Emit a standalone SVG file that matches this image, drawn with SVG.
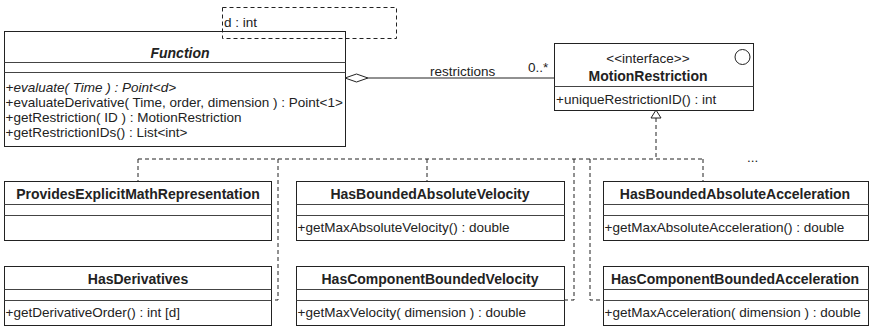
<svg xmlns="http://www.w3.org/2000/svg" width="871" height="327" viewBox="0 0 871 327">
<style>
.box{fill:#fff;stroke:#222;stroke-width:1}
.sep{stroke:#444;stroke-width:1}
.dash{fill:none;stroke:#222;stroke-width:1;stroke-dasharray:4,3}
.name{font-family:"Liberation Sans",Arial,sans-serif;font-size:14px;font-weight:bold;fill:#222;text-anchor:middle}
.m{font-family:"Liberation Sans",Arial,sans-serif;font-size:13.5px;fill:#222}
.ln{fill:none;stroke:#222;stroke-width:1}
</style>
<g id="connectors">
<path class="dash" d="M656,118 V159 M138,159 H703 M138,159 V181 M278,159 V300 H271 M427,159 V181 M574,159 V300 H564 M590,159 V300 H603 M703,159 V181"/>
<path d="M656,110 L651,118 L661,118 Z" fill="#fff" stroke="#222"/>
<path class="ln" d="M368,78 H554"/>
<path d="M345,78 L356.5,74 L368,78 L356.5,82 Z" fill="#fff" stroke="#222"/>
<text class="m" x="430" y="76">restrictions</text>
<text class="m" x="528" y="72">0..*</text>
<text class="m" x="747" y="162">...</text>
</g>
<g id="Function">
<rect class="box" x="4.5" y="31.5" width="341" height="115"/>
<line class="sep" x1="4.5" y1="62.5" x2="345.5" y2="62.5"/>
<line class="sep" x1="4.5" y1="72.5" x2="345.5" y2="72.5"/>
<text class="name" x="180" y="58" font-style="italic">Function</text>
<text class="m" x="5.5" y="92" font-style="italic">+evaluate( Time ) : Point&lt;d&gt;</text>
<text class="m" x="5.5" y="107">+evaluateDerivative( Time, order, dimension ) : Point&lt;1&gt;</text>
<text class="m" x="5.5" y="122">+getRestriction( ID ) : MotionRestriction</text>
<text class="m" x="5.5" y="137">+getRestrictionIDs() : List&lt;int&gt;</text>
</g>
<g id="template">
<rect x="222.5" y="7.5" width="174" height="31" fill="#fff" class="dash"/>
<text class="m" x="224" y="27">d : int</text>
</g>
<g id="MotionRestriction">
<rect class="box" x="554.5" y="43.5" width="199" height="67"/>
<line class="sep" x1="554.5" y1="86.5" x2="753.5" y2="86.5"/>
<circle cx="742.5" cy="57" r="7.5" fill="#fff" stroke="#222"/>
<text class="m" x="648" y="63" text-anchor="middle">&lt;&lt;interface&gt;&gt;</text>
<text class="name" x="648" y="81">MotionRestriction</text>
<text class="m" x="556" y="104">+uniqueRestrictionID() : int</text>
</g>
<g id="ProvidesExplicitMathRepresentation">
<rect class="box" x="4.5" y="181.5" width="267" height="59"/>
<line class="sep" x1="4.5" y1="204.5" x2="271.5" y2="204.5"/>
<line class="sep" x1="4.5" y1="215.5" x2="271.5" y2="215.5"/>
<text class="name" x="138" y="199">ProvidesExplicitMathRepresentation</text>
</g>
<g id="HasBoundedAbsoluteVelocity">
<rect class="box" x="296.5" y="181.5" width="268" height="59"/>
<line class="sep" x1="296.5" y1="204.5" x2="564.5" y2="204.5"/>
<line class="sep" x1="296.5" y1="215.5" x2="564.5" y2="215.5"/>
<text class="name" x="430" y="199">HasBoundedAbsoluteVelocity</text>
<text class="m" x="297.5" y="232">+getMaxAbsoluteVelocity() : double</text>
</g>
<g id="HasBoundedAbsoluteAcceleration">
<rect class="box" x="603.5" y="181.5" width="265" height="59"/>
<line class="sep" x1="603.5" y1="204.5" x2="868.5" y2="204.5"/>
<line class="sep" x1="603.5" y1="215.5" x2="868.5" y2="215.5"/>
<text class="name" x="735" y="199">HasBoundedAbsoluteAcceleration</text>
<text class="m" x="604.5" y="232">+getMaxAbsoluteAcceleration() : double</text>
</g>
<g id="HasDerivatives">
<rect class="box" x="4.5" y="266.5" width="267" height="59"/>
<line class="sep" x1="4.5" y1="289.5" x2="271.5" y2="289.5"/>
<line class="sep" x1="4.5" y1="300.5" x2="271.5" y2="300.5"/>
<text class="name" x="138" y="284">HasDerivatives</text>
<text class="m" x="5.5" y="317">+getDerivativeOrder() : int [d]</text>
</g>
<g id="HasComponentBoundedVelocity">
<rect class="box" x="296.5" y="266.5" width="268" height="59"/>
<line class="sep" x1="296.5" y1="289.5" x2="564.5" y2="289.5"/>
<line class="sep" x1="296.5" y1="300.5" x2="564.5" y2="300.5"/>
<text class="name" x="430" y="284">HasComponentBoundedVelocity</text>
<text class="m" x="297.5" y="317">+getMaxVelocity( dimension ) : double</text>
</g>
<g id="HasComponentBoundedAcceleration">
<rect class="box" x="603.5" y="266.5" width="265" height="59"/>
<line class="sep" x1="603.5" y1="289.5" x2="868.5" y2="289.5"/>
<line class="sep" x1="603.5" y1="300.5" x2="868.5" y2="300.5"/>
<text class="name" x="735" y="284">HasComponentBoundedAcceleration</text>
<text class="m" x="604.5" y="317">+getMaxAcceleration( dimension ) : double</text>
</g>
</svg>
